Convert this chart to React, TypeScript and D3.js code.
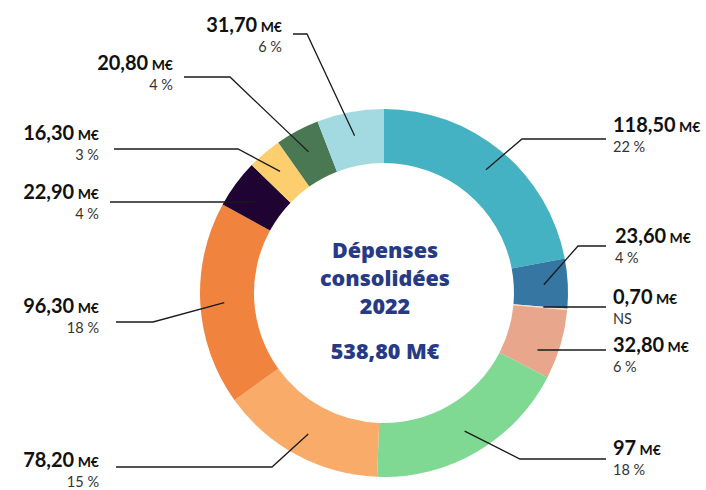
import * as d3 from "d3"
import React from "react"

// montants en M€, dans l'ordre horaire depuis midi
const categories = [
  "A", "B", "C", "D", "E", "F", "G", "H", "I", "J", "K",
]
const values = [118.5, 23.6, 0.7, 32.8, 97, 78.2, 96.3, 22.9, 16.3, 20.8, 31.7]
const valueLabels = [
  "118,50", "23,60", "0,70", "32,80", "97", "78,20",
  "96,30", "22,90", "16,30", "20,80", "31,70",
]
const pctLabels = ["22 %", "4 %", "NS", "6 %", "18 %", "15 %", "18 %", "4 %", "3 %", "4 %", "6 %"]
const colors = [
  "#45b2c4", "#3576a3", "#f7dcc0", "#e8a68c", "#80d993", "#f9ac6a",
  "#f0843f", "#1e0333", "#fdce6e", "#497853", "#a3dae2",
]
const centerTitle = ["Dépenses", "consolidées", "2022"]
const centerTotal = "538,80 M€"

// mise en page des étiquettes : y de la ligne, x de l'extrémité, coude, x du texte
const labelLayout = [
  { side: "r", lineY: 139, elbowX: 522, endX: 606, textX: 613, textY: 132 },
  { side: "r", lineY: 246, elbowX: 578, endX: 606, textX: 615, textY: 243 },
  { side: "r", lineY: 307, elbowX: null, endX: 606, textX: 613, textY: 304 },
  { side: "r", lineY: 350, elbowX: null, endX: 606, textX: 613, textY: 352 },
  { side: "r", lineY: 459, elbowX: 520, endX: 606, textX: 613, textY: 455 },
  { side: "l", lineY: 467, elbowX: 272, endX: 116, textX: 99, textY: 467 },
  { side: "l", lineY: 322, elbowX: 153, endX: 116, textX: 99, textY: 313 },
  { side: "l", lineY: 202, elbowX: null, endX: 110, textX: 99, textY: 199 },
  { side: "l", lineY: 149, elbowX: 238, endX: 114, textX: 99, textY: 140 },
  { side: "l", lineY: 77, elbowX: 230, endX: 184, textX: 173, textY: 70 },
  { side: "l", lineY: 34, elbowX: 307, endX: 293, textX: 282, textY: 32 },
]

const width = 706
const height = 490
const cx = 384
const cy = 293
const rOuter = 184
const rInner = 130
const font = "Lato, 'Noto Sans', sans-serif"
const centerFont = "'Open Sans', Lato, sans-serif"

export default function App() {
  const pie = d3.pie<number>().sort(null).value((d) => d)
  const arcs = pie(values)
  const arc = d3.arc<d3.PieArcDatum<number>>().innerRadius(rInner).outerRadius(rOuter)
  const labelArc = d3.arc<d3.PieArcDatum<number>>().innerRadius(160).outerRadius(160)

  return (
    <svg
      width={width}
      height={height}
      style={{ position: "absolute", left: 0, top: 0, background: "#fff" }}
    >
      <g transform={`translate(${cx},${cy})`}>
        {arcs.map((a, i) => (
          <path key={categories[i]} d={arc(a)!} fill={colors[i]} />
        ))}
      </g>

      {arcs.map((a, i) => {
        const L = labelLayout[i]
        const [px, py] = labelArc.centroid(a)
        const x0 = cx + px
        const y0 = L.elbowX == null ? L.lineY : cy + py
        const pts: [number, number][] = [[x0, y0]]
        if (L.elbowX != null) pts.push([L.elbowX, L.lineY])
        pts.push([L.endX, L.lineY])
        const anchor = L.side === "r" ? "start" : "end"
        return (
          <g key={"l" + i}>
            <path
              d={d3.line()(pts)!}
              fill="none"
              stroke="#1a1a1a"
              strokeWidth={1.3}
            />
            <text
              x={L.textX}
              y={L.textY}
              textAnchor={anchor}
              fontFamily={font}
              fontWeight={700}
              fontSize={20}
              fill="#111"
            >
              {valueLabels[i]}
              <tspan fontSize={14}> M€</tspan>
            </text>
            <text
              x={L.textX}
              y={L.textY + 20}
              textAnchor={anchor}
              fontFamily={font}
              fontSize={14.5}
              fill="#333"
            >
              {pctLabels[i]}
            </text>
          </g>
        )
      })}

      <g fontFamily={centerFont} fontWeight={800} fill="#263a85" textAnchor="middle">
        {centerTitle.map((t, i) => (
          <text key={t} x={cx + 1} y={258 + i * 28} fontSize={21.5}>
            {t}
          </text>
        ))}
        <text x={cx + 1} y={359} fontSize={21.5}>
          {centerTotal}
        </text>
      </g>
    </svg>
  )
}
